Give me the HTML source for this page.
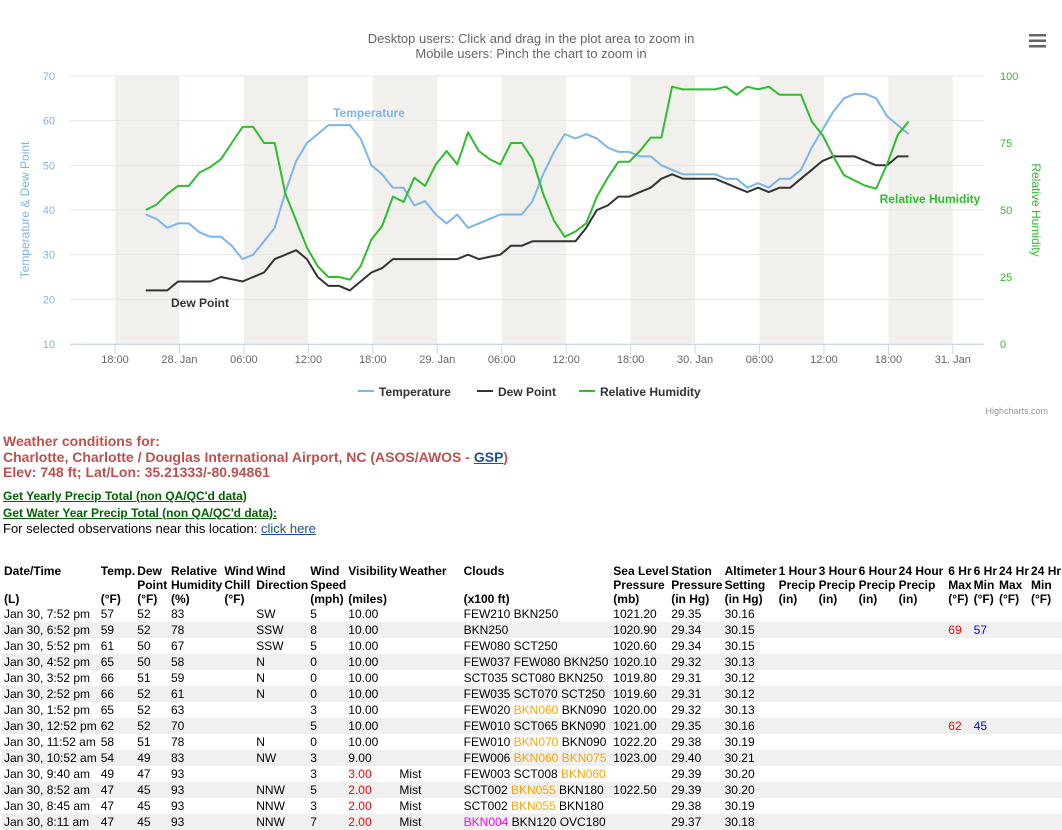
<!DOCTYPE html>
<html><head><meta charset="utf-8">
<style>
body{margin:0;background:#fff;font-family:"Liberation Sans",Arial,sans-serif;width:1062px;height:830px;overflow:hidden;position:relative}
#chart{position:absolute;left:0;top:0}
.info{position:absolute;left:3px;font-size:13px;line-height:15.5px}
.hdr{color:#c0504d;font-weight:bold;font-size:14px;line-height:15.5px}
.g{color:#006400;font-weight:bold;text-decoration:underline;font-size:12px}
table{position:absolute;left:2px;top:564px;border-collapse:collapse;table-layout:fixed;font-size:12px;color:#000}
td,th{padding:0 0 0 2px;white-space:nowrap;overflow:hidden;height:16px;line-height:16px;text-align:left;vertical-align:bottom}
th{font-weight:bold;line-height:14px;height:14px}
tr.s td{background:#f0f0f0}
.o{color:#ffa500}.r{color:#ff0000}.b{color:#0000ff}.m{color:#ff00ff}
</style></head><body>
<svg id="chart" width="1062" height="420" xmlns="http://www.w3.org/2000/svg" font-family="Liberation Sans, Arial, sans-serif">
<text x="531" y="43" text-anchor="middle" font-size="13" fill="#666">Desktop users: Click and drag in the plot area to zoom in</text>
<text x="531" y="58" text-anchor="middle" font-size="13" fill="#666">Mobile users: Pinch the chart to zoom in</text>
<g><rect x="1029" y="34" width="17" height="2.5" fill="#666"/><rect x="1029" y="39.5" width="17" height="2.5" fill="#666"/><rect x="1029" y="45" width="17" height="2.5" fill="#666"/></g>
<g id="bands"></g><g id="grid"></g><g id="axes"></g><g id="series"></g>
<text x="369" y="117" text-anchor="middle" font-size="12" font-weight="bold" fill="#7cb5ec">Temperature</text>
<text x="200" y="307" text-anchor="middle" font-size="12" font-weight="bold" fill="#333">Dew Point</text>
<text x="930" y="203" text-anchor="middle" font-size="12" font-weight="bold" fill="#2ebd2e">Relative Humidity</text>
<text transform="translate(29,210) rotate(-90)" text-anchor="middle" font-size="12" fill="#7cb5ec">Temperature &amp; Dew Point</text>
<text transform="translate(1032,210) rotate(90)" text-anchor="middle" font-size="12" fill="#2ebd2e">Relative Humidity</text>
<g>
<g><line x1="358" y1="391" x2="374" y2="391" stroke="#7cb5ec" stroke-width="2"/><text x="379" y="396" font-size="12" font-weight="bold" fill="#333">Temperature</text></g>
<g><line x1="477" y1="391" x2="493" y2="391" stroke="#333" stroke-width="2"/><text x="498" y="396" font-size="12" font-weight="bold" fill="#333">Dew Point</text></g>
<g><line x1="579" y1="391" x2="595" y2="391" stroke="#2ebd2e" stroke-width="2"/><text x="600" y="396" font-size="12" font-weight="bold" fill="#333">Relative Humidity</text></g>
</g>
<text x="1048" y="414" text-anchor="end" font-size="9" fill="#999">Highcharts.com</text>
</svg>

<div class="info hdr" style="top:434px">Weather conditions for:<br>Charlotte, Charlotte / Douglas International Airport, NC (ASOS/AWOS - <a href="#" style="color:#1a4f9c">GSP</a>)<br>Elev: 748 ft; Lat/Lon: 35.21333/-80.94861</div>
<div class="info" style="top:488px">
<a class="g" href="#">Get Yearly Precip Total (non QA/QC'd data)</a><br>
<a class="g" href="#">Get Water Year Precip Total (non QA/QC'd data):</a><br>
<span style="font-size:13px">For selected observations near this location: <a href="#" style="color:#1a4f9c">click here</a></span>
</div>

<table>
<colgroup><col style="width:97px"><col style="width:35px"><col style="width:34px"><col style="width:52px"><col style="width:32px"><col style="width:54px"><col style="width:38px"><col style="width:51px"><col style="width:66px"><col style="width:150px"><col style="width:58px"><col style="width:52px"><col style="width:54px"><col style="width:40px"><col style="width:39px"><col style="width:39px"><col style="width:50px"><col style="width:25px"><col style="width:25px"><col style="width:32px"><col style="width:33px"></colgroup>
<tr><th>Date/Time</th><th>Temp.</th><th>Dew</th><th>Relative</th><th>Wind</th><th>Wind</th><th>Wind</th><th>Visibility</th><th>Weather</th><th>Clouds</th><th>Sea Level</th><th>Station</th><th>Altimeter</th><th>1 Hour</th><th>3 Hour</th><th>6 Hour</th><th>24 Hour</th><th>6 Hr</th><th>6 Hr</th><th>24 Hr</th><th>24 Hr</th></tr>
<tr><th></th><th></th><th>Point</th><th>Humidity</th><th>Chill</th><th>Direction</th><th>Speed</th><th></th><th></th><th></th><th>Pressure</th><th>Pressure</th><th>Setting</th><th>Precip</th><th>Precip</th><th>Precip</th><th>Precip</th><th>Max</th><th>Min</th><th>Max</th><th>Min</th></tr>
<tr><th>(L)</th><th>(°F)</th><th>(°F)</th><th>(%)</th><th>(°F)</th><th></th><th>(mph)</th><th>(miles)</th><th></th><th>(x100 ft)</th><th>(mb)</th><th>(in Hg)</th><th>(in Hg)</th><th>(in)</th><th>(in)</th><th>(in)</th><th>(in)</th><th>(°F)</th><th>(°F)</th><th>(°F)</th><th>(°F)</th></tr>
<tr><td>Jan 30, 7:52 pm</td><td>57</td><td>52</td><td>83</td><td></td><td>SW</td><td>5</td><td>10.00</td><td></td><td>FEW210 BKN250</td><td>1021.20</td><td>29.35</td><td>30.16</td><td></td><td></td><td></td><td></td><td></td><td></td><td></td><td></td></tr>
<tr class="s"><td>Jan 30, 6:52 pm</td><td>59</td><td>52</td><td>78</td><td></td><td>SSW</td><td>8</td><td>10.00</td><td></td><td>BKN250</td><td>1020.90</td><td>29.34</td><td>30.15</td><td></td><td></td><td></td><td></td><td class="r">69</td><td class="b">57</td><td></td><td></td></tr>
<tr><td>Jan 30, 5:52 pm</td><td>61</td><td>50</td><td>67</td><td></td><td>SSW</td><td>5</td><td>10.00</td><td></td><td>FEW080 SCT250</td><td>1020.60</td><td>29.34</td><td>30.15</td><td></td><td></td><td></td><td></td><td></td><td></td><td></td><td></td></tr>
<tr class="s"><td>Jan 30, 4:52 pm</td><td>65</td><td>50</td><td>58</td><td></td><td>N</td><td>0</td><td>10.00</td><td></td><td>FEW037 FEW080 BKN250</td><td>1020.10</td><td>29.32</td><td>30.13</td><td></td><td></td><td></td><td></td><td></td><td></td><td></td><td></td></tr>
<tr><td>Jan 30, 3:52 pm</td><td>66</td><td>51</td><td>59</td><td></td><td>N</td><td>0</td><td>10.00</td><td></td><td>SCT035 SCT080 BKN250</td><td>1019.80</td><td>29.31</td><td>30.12</td><td></td><td></td><td></td><td></td><td></td><td></td><td></td><td></td></tr>
<tr class="s"><td>Jan 30, 2:52 pm</td><td>66</td><td>52</td><td>61</td><td></td><td>N</td><td>0</td><td>10.00</td><td></td><td>FEW035 SCT070 SCT250</td><td>1019.60</td><td>29.31</td><td>30.12</td><td></td><td></td><td></td><td></td><td></td><td></td><td></td><td></td></tr>
<tr><td>Jan 30, 1:52 pm</td><td>65</td><td>52</td><td>63</td><td></td><td></td><td>3</td><td>10.00</td><td></td><td>FEW020 <span class="o">BKN060</span> BKN090</td><td>1020.00</td><td>29.32</td><td>30.13</td><td></td><td></td><td></td><td></td><td></td><td></td><td></td><td></td></tr>
<tr class="s"><td>Jan 30, 12:52 pm</td><td>62</td><td>52</td><td>70</td><td></td><td></td><td>5</td><td>10.00</td><td></td><td>FEW010 SCT065 BKN090</td><td>1021.00</td><td>29.35</td><td>30.16</td><td></td><td></td><td></td><td></td><td class="r">62</td><td class="b">45</td><td></td><td></td></tr>
<tr><td>Jan 30, 11:52 am</td><td>58</td><td>51</td><td>78</td><td></td><td>N</td><td>0</td><td>10.00</td><td></td><td>FEW010 <span class="o">BKN070</span> BKN090</td><td>1022.20</td><td>29.38</td><td>30.19</td><td></td><td></td><td></td><td></td><td></td><td></td><td></td><td></td></tr>
<tr class="s"><td>Jan 30, 10:52 am</td><td>54</td><td>49</td><td>83</td><td></td><td>NW</td><td>3</td><td>9.00</td><td></td><td>FEW006 <span class="o">BKN060 BKN075</span></td><td>1023.00</td><td>29.40</td><td>30.21</td><td></td><td></td><td></td><td></td><td></td><td></td><td></td><td></td></tr>
<tr><td>Jan 30, 9:40 am</td><td>49</td><td>47</td><td>93</td><td></td><td></td><td>3</td><td class="r">3.00</td><td>Mist</td><td>FEW003 SCT008 <span class="o">BKN060</span></td><td></td><td>29.39</td><td>30.20</td><td></td><td></td><td></td><td></td><td></td><td></td><td></td><td></td></tr>
<tr class="s"><td>Jan 30, 8:52 am</td><td>47</td><td>45</td><td>93</td><td></td><td>NNW</td><td>5</td><td class="r">2.00</td><td>Mist</td><td>SCT002 <span class="o">BKN055</span> BKN180</td><td>1022.50</td><td>29.39</td><td>30.20</td><td></td><td></td><td></td><td></td><td></td><td></td><td></td><td></td></tr>
<tr><td>Jan 30, 8:45 am</td><td>47</td><td>45</td><td>93</td><td></td><td>NNW</td><td>3</td><td class="r">2.00</td><td>Mist</td><td>SCT002 <span class="o">BKN055</span> BKN180</td><td></td><td>29.38</td><td>30.19</td><td></td><td></td><td></td><td></td><td></td><td></td><td></td><td></td></tr>
<tr class="s"><td>Jan 30, 8:11 am</td><td>47</td><td>45</td><td>93</td><td></td><td>NNW</td><td>7</td><td class="r">2.00</td><td>Mist</td><td><span class="m">BKN004</span> BKN120 OVC180</td><td></td><td>29.37</td><td>30.18</td><td></td><td></td><td></td><td></td><td></td><td></td><td></td><td></td></tr>
</table>

<script>
const temperature = [39,38,36,37,37,35,34,34,32,29,30,33, 36,44,51,55,57,59,59,59,56,50,48,45, 45,41,42,39,37,39,36,37,38,39,39,39, 42,48,53,57,56,57,56,54,53,53,52,52, 50,49,48,48,48,48,47,47,45,46,45,47, 47,49,54,58,62,65,66,66,65,61,59,57];
const dewPoint = [22,22,22,24,24,24,24,25,24.5,24,25,26, 29,30,31,29,25,23,23,22,24,26,27,29, 29,29,29,29,29,29,30,29,29.5,30,32,32, 33,33,33,33,33,36,40,41,43,43,44,45, 47,48,47,47,47,47,46,45,44,45,44,45, 45,47,49,51,52,52,52,51,50,50,52,52];
const humidity = [50,52,56,59,59,64,66,69,75,81,81,75, 75,56,46,36,29,25,25,24,29,39,44,55, 53,62,59,67,72,67,79,72,69,67,75,75, 69,56,46,40,42,45,55,62,68,68,72,77, 77,96,95,95,95,95,96,93,96,95,96,93, 93,93,83,78,70,63,61,59,58,67,78,83];
const leftTicks = [10,20,30,40,50,60,70];
const rightTicks = [0,25,50,75,100];
const xTickLabels = ["18:00","28. Jan","06:00","12:00","18:00","29. Jan","06:00","12:00","18:00","30. Jan","06:00","12:00","18:00","31. Jan"];
const firstObsHour = 2.867; // hours after 18:00 Jan 27

const NS="http://www.w3.org/2000/svg";
const L=70,R=984,T=76,B=344;
const xAt=h=>115+h*(64.45/6);
const yL=v=>B-(v-10)/60*(B-T);
const yR=v=>B-v/100*(B-T);
function mk(tag,attrs,parent){const e=document.createElementNS(NS,tag);for(const k in attrs)e.setAttribute(k,attrs[k]);parent.appendChild(e);return e;}
const bands=document.getElementById('bands'),grid=document.getElementById('grid'),axes=document.getElementById('axes'),ser=document.getElementById('series');
for(let i=0;i<xTickLabels.length;i+=2){
  const b=mk('rect',{x:xAt(i*6),y:T,width:xAt(6)-xAt(0),height:B-T,fill:'#f2f0ec'},bands);
  
  
}
leftTicks.forEach(v=>{
  const y=yL(v);
  const g=mk('line',{x1:L,x2:R,y1:y,y2:y,stroke:'#e6e6e6','stroke-width':1},grid);
  
  
  const t=mk('text',{x:55,y:y+4,'text-anchor':'end','font-size':11,fill:'#7cb5ec'},axes);
  t.textContent=v;
  
  
});
rightTicks.forEach(v=>{
  const t=mk('text',{x:1000,y:yR(v)+4,'font-size':11,fill:'#2ebd2e'},axes);
  t.textContent=v;
  
  
});
const ax=mk('line',{x1:L,x2:R,y1:B+0.5,y2:B+0.5,stroke:'#ccd6eb','stroke-width':1},axes);


xTickLabels.forEach((lab,i)=>{
  const x=xAt(i*6);
  mk('line',{x1:x,x2:x,y1:B,y2:B+10,stroke:'#ccd6eb'},axes);
  const t=mk('text',{x:x,y:363,'text-anchor':'middle','font-size':11,fill:'#666'},axes);
  t.textContent=lab;
  
  
});
function line(data,yf,color,name){
  const d=data.map((v,i)=>(i?'L':'M')+xAt(firstObsHour+i).toFixed(1)+' '+yf(v).toFixed(1)).join(' ');
  const p=mk('path',{d:d,fill:'none',stroke:color,'stroke-width':2,'stroke-linejoin':'round'},ser);
  
  
}
line(temperature,yL,'#7cb5ec','temperature-line');
line(dewPoint,yL,'#333333','dew-point-line');
line(humidity,yR,'#2ebd2e','humidity-line');
</script>
</body></html>
